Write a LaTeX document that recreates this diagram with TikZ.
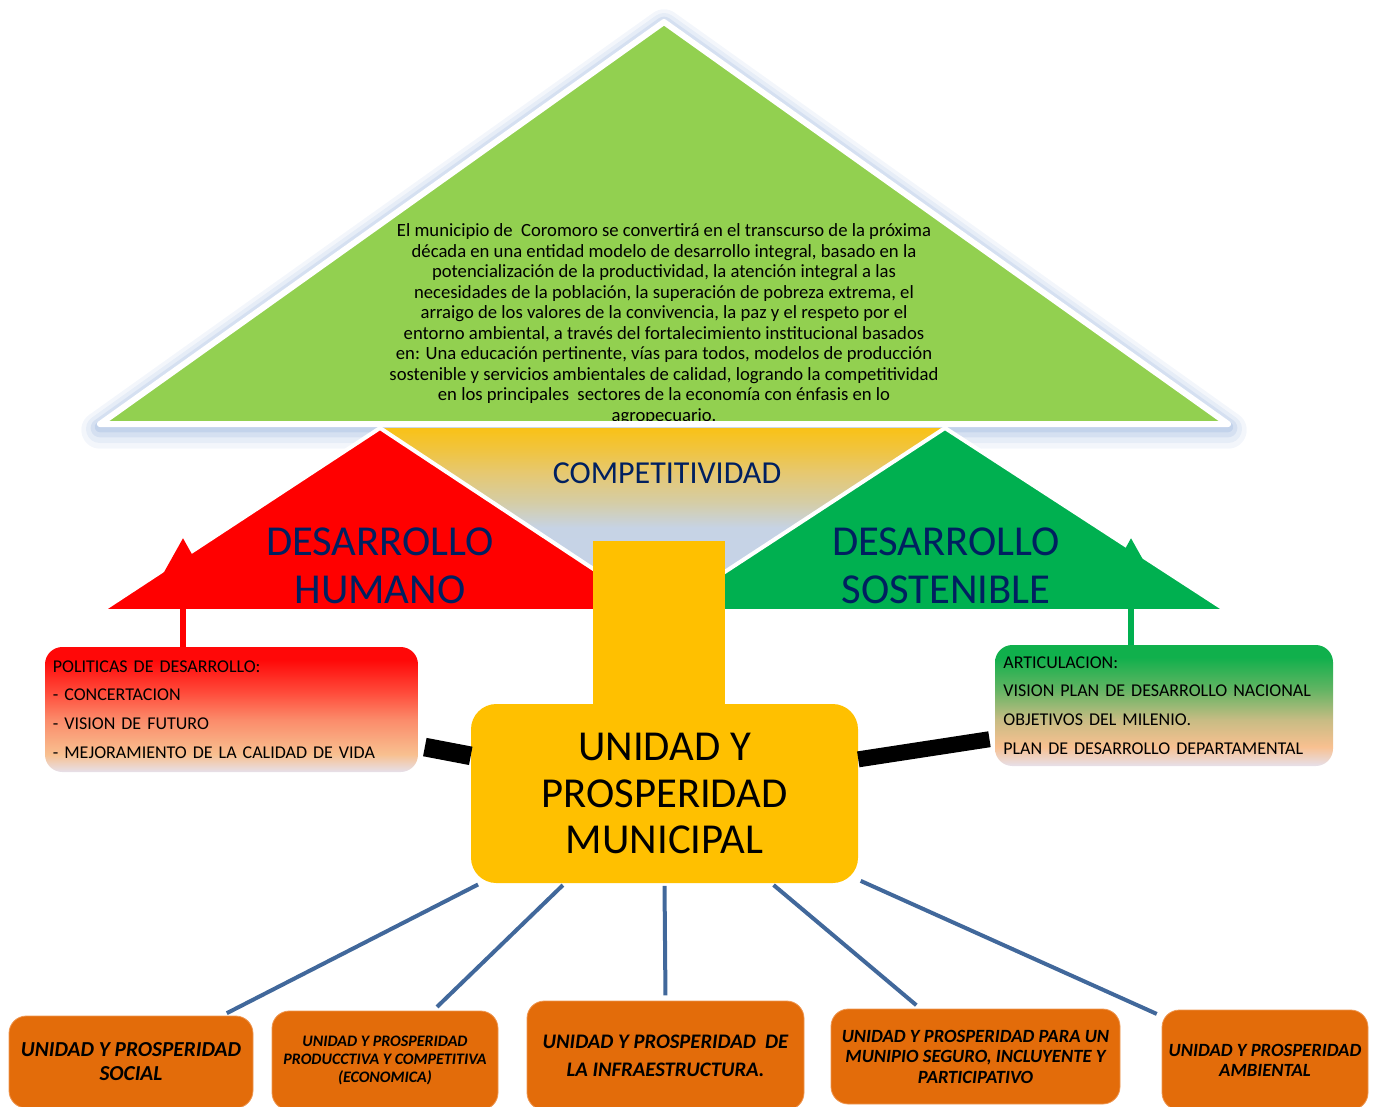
\documentclass[tikz,border=0pt]{standalone}
\usepackage{fontspec}
\setmainfont{Carlito}
\usepackage{tikz}
\usetikzlibrary{arrows.meta}

\definecolor{verdeclaro}{RGB}{146,208,80}
\definecolor{verdeoscuro}{RGB}{0,176,80}
\definecolor{amarillo}{RGB}{255,192,0}
\definecolor{naranja}{RGB}{227,108,10}
\definecolor{naranjaborde}{RGB}{238,150,80}
\definecolor{azultexto}{RGB}{0,32,96}
\definecolor{azullinea}{RGB}{65,104,155}
\definecolor{sombra}{RGB}{160,185,224}
% colores de los degradados
\definecolor{gris}{RGB}{230,224,234}
\definecolor{durazno}{RGB}{248,192,144}
\definecolor{rojomedio}{RGB}{251,139,106}
\definecolor{rojoclaro}{RGB}{255,74,58}
\definecolor{rojo}{RGB}{255,8,8}
\definecolor{verdemedio}{RGB}{200,188,132}
\definecolor{verdeclaro2}{RGB}{96,180,98}
\definecolor{verdearriba}{RGB}{16,176,76}
\definecolor{amarilloarriba}{RGB}{249,194,23}
\definecolor{amarillo2}{RGB}{240,196,64}
\definecolor{amarillo3}{RGB}{230,200,112}
\definecolor{beige}{RGB}{213,205,165}
\definecolor{celeste}{RGB}{198,211,229}
\definecolor{celeste2}{RGB}{196,212,238}

\pgfdeclareverticalshading{degradadorojo}{100bp}{color(0bp)=(gris); color(25bp)=(gris); color(32bp)=(durazno); color(46bp)=(rojomedio); color(57bp)=(rojoclaro); color(70bp)=(rojo); color(100bp)=(rojo)}
\pgfdeclareverticalshading{degradadoverde}{100bp}{color(0bp)=(gris); color(25bp)=(gris); color(33bp)=(durazno); color(44bp)=(verdemedio); color(57bp)=(verdeclaro2); color(70bp)=(verdearriba); color(100bp)=(verdearriba)}
\pgfdeclareverticalshading{degradadocompet}{100bp}{color(0bp)=(celeste2); color(48bp)=(celeste); color(55bp)=(beige); color(63bp)=(amarillo3); color(69bp)=(amarillo2); color(75bp)=(amarilloarriba); color(100bp)=(amarilloarriba)}

\begin{document}
\begin{tikzpicture}[x=0.75pt,y=0.75pt,yscale=-1,xscale=1,
    caja/.style={rounded corners=13pt, inner sep=0pt},
    cajainf/.style={caja, fill=naranja, draw=naranjaborde, line width=0.6pt, align=center, font=\bfseries\itshape},
    conector/.style={draw=azullinea, line width=3pt, shorten <=2pt, shorten >=4pt},
    barra/.style={draw=black, line width=14pt},
    flecha/.style={line width=5pt, -{Triangle[length=30pt,width=32pt]}},
    borde/.style={draw=white, line width=3pt},
    brillo/.style={sombra, line join=round},
    titulo/.style={text=azultexto, align=center, font=\fontsize{32}{36}\selectfont}]
  \useasboundingbox (0,0) rectangle (1376,1106);

  %Shape: Triangle [sombra]
  \draw [brillo, opacity=0.12, line width=28pt] (664,28) -- (1228,430) -- (100,430) -- cycle ;
  \draw [brillo, opacity=0.16, line width=21pt] (664,27) -- (1228,429) -- (100,429) -- cycle ;
  \draw [brillo, opacity=0.24, line width=14pt] (664,26) -- (1228,428) -- (100,428) -- cycle ;
  \draw [brillo, opacity=0.35, line width=8pt] (664,25) -- (1228,427) -- (100,427) -- cycle ;
  %Shape: Triangle [vision]
  \fill [verdeclaro] (664,22) -- (1228,424) -- (100,424) -- cycle ;
  % Text Node
  \begin{scope}
    \clip (664,22) -- (1228,424) -- (100,424) -- cycle ;
    \node [align=center, inner sep=0pt, font=\fontsize{14}{15.4}\selectfont] (vision) at (664,324) {El municipio de\ \ Coromoro se convertirá en el transcurso de la próxima\\ década en una entidad modelo de desarrollo integral, basado en la\\ potencialización de la productividad, la atención integral a las\\ necesidades de la población, la superación de pobreza extrema, el\\ arraigo de los valores de la convivencia, la paz y el respeto por el\\ entorno ambiental, a través del fortalecimiento institucional basados\\ en: Una educación pertinente, vías para todos, modelos de producción\\ sostenible y servicios ambientales de calidad, logrando la competitividad\\ en los principales\ \ sectores de la economía con énfasis en lo\\ agropecuario.};
  \end{scope}
  \draw [borde, line width=4.5pt, line join=round] (664,22) -- (1228,424) -- (100,424) -- cycle ;

  %Shape: Triangle [competitividad]
  \shade [shading=degradadocompet] (382,428) -- (943,428) -- (662.5,613) -- cycle ;
  %Shape: Triangle [humano]
  \draw [borde, fill=red] (380,428) -- (657,611) -- (101,611) -- cycle ;
  %Shape: Triangle [sostenible]
  \draw [borde, fill=verdeoscuro] (945,428) -- (1227,611) -- (665,611) -- cycle ;

  % Text Node
  \node [titulo] (humano) at (380,566) {DESARROLLO\\ HUMANO};
  % Text Node
  \node [titulo] (sostenible) at (946,566) {DESARROLLO\\ SOSTENIBLE};
  % Text Node
  \node [text=azultexto, font=\fontsize{24}{28}\selectfont] (compet) at (667,473) {COMPETITIVIDAD};

  %Shape: Rectangle [tronco]
  \fill [amarillo] (593,541) rectangle (725,720) ;

  % Central box
  \node [caja, rounded corners=19pt, fill=amarillo, minimum width=290.25pt, minimum height=134.25pt, align=center, font=\fontsize{32}{35}\selectfont] (centro) at (664.5,793.5) {UNIDAD Y\\ PROSPERIDAD\\ MUNICIPAL};

  % Side boxes
  \node [caja, shading=degradadorojo, minimum width=279.75pt, minimum height=93.75pt, text width=268pt, align=left, font=\fontsize{13.5}{21.5}\selectfont] (politicas) at (231.5,709.5) {POLITICAS DE DESARROLLO:\\ - CONCERTACION\\ - VISION DE FUTURO\\ - MEJORAMIENTO DE LA CALIDAD DE VIDA};
  \node [caja, shading=degradadoverde, minimum width=253.5pt, minimum height=90.75pt, text width=241pt, align=left, font=\fontsize{13.5}{21.5}\selectfont] (articulacion) at (1164,705.5) {ARTICULACION:\\ VISION PLAN DE DESARROLLO NACIONAL\\ OBJETIVOS DEL MILENIO.\\ PLAN DE DESARROLLO DEPARTAMENTAL};

  % Arrows
  \coordinate (puntaH) at (183,538);
  \coordinate (puntaS) at (1131,538);
  \draw [flecha, red] (politicas.north -| puntaH) -- (puntaH) ;
  \draw [flecha, verdeoscuro] (articulacion.north -| puntaS) -- (puntaS) ;

  % Black bars
  \draw [barra, shorten <=5pt] (politicas.-11) -- (centro.169) ;
  \draw [barra, line width=12pt, shorten >=4pt] (centro.10.7) -- (articulacion.191) ;

  % Bottom boxes
  \node [cajainf, minimum width=183pt, minimum height=69pt, font=\bfseries\itshape\fontsize{16}{18}\selectfont] (social) at (131,1062) {UNIDAD Y PROSPERIDAD\\ SOCIAL};
  \node [cajainf, minimum width=169.5pt, minimum height=74.25pt, font=\bfseries\itshape\fontsize{12}{13.5}\selectfont] (productiva) at (385,1060.5) {UNIDAD Y PROSPERIDAD\\ PRODUCCTIVA Y COMPETITIVA\\ (ECONOMICA)};
  \node [cajainf, minimum width=207.75pt, minimum height=81.75pt, font=\bfseries\itshape\fontsize{15.5}{21}\selectfont] (infra) at (665.5,1055.5) {UNIDAD Y PROSPERIDAD\ \ DE\\ LA INFRAESTRUCTURA.};
  \node [cajainf, minimum width=216.75pt, minimum height=71.25pt, font=\bfseries\itshape\fontsize{14}{15.4}\selectfont] (seguro) at (975.5,1056.5) {UNIDAD Y PROSPERIDAD PARA UN\\ MUNIPIO SEGURO, INCLUYENTE Y\\ PARTICIPATIVO};
  \node [cajainf, minimum width=154.5pt, minimum height=75pt, font=\bfseries\itshape\fontsize{14}{15}\selectfont] (ambiental) at (1265,1060) {UNIDAD Y PROSPERIDAD\\ AMBIENTAL};

  % Connectors
  \draw [conector] (centro.206) -- (social.27) ;
  \draw [conector] (centro.222.5) -- (productiva.46) ;
  \draw [conector] (centro.south) -- (infra.north) ;
  \draw [conector] (centro.320.5) -- (seguro.139) ;
  \draw [conector] (centro.336) -- (ambiental.157) ;

\end{tikzpicture}
\end{document}
